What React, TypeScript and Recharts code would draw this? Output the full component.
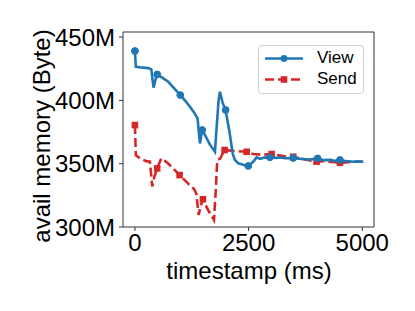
import React from 'react';
import { LineChart, Line, XAxis, YAxis, Legend, ReferenceArea } from 'recharts';

const xTicks = [0, 2500, 5000];
const yTicks = [300, 350, 400, 450];

const viewTime = [0, 20, 150, 300, 360, 410, 450, 490, 600, 733, 850, 997, 1100, 1210, 1300, 1379, 1400, 1430, 1481, 1550, 1650, 1760, 1800, 1840, 1870, 1930, 1995, 2080, 2150, 2200, 2273, 2400, 2493, 2600, 2677, 2750, 2850, 2970, 3100, 3200, 3300, 3480, 3600, 3750, 3850, 4018, 4150, 4300, 4400, 4509, 4650, 4800, 4900, 5020];
const viewMem = [439, 426.5, 426, 425.5, 424.5, 410, 416, 420.5, 418, 414.7, 410, 404.2, 400, 395, 390.5, 385.8, 377, 366, 376.6, 372, 365, 359.4, 380, 400, 406.8, 398, 392.4, 375, 358, 352.9, 350.3, 349, 348.2, 351.5, 355, 353.8, 354.8, 355, 354.6, 355, 354.3, 354.5, 354, 353.5, 353.2, 354.2, 352.8, 353, 352.2, 352.9, 352, 351.5, 351.8, 351.5];
const viewMarkers = [0, 490, 997, 1481, 1995, 2493, 2970, 3480, 4018, 4509];

const sendTime = [0, 20, 110, 250, 330, 381, 430, 490, 580, 650, 726, 850, 983, 1150, 1300, 1349, 1375, 1400, 1450, 1496, 1600, 1700, 1738, 1780, 1810, 1880, 1930, 1973, 2200, 2457, 2603, 2800, 3007, 3200, 3350, 3482, 3650, 3850, 3996, 4150, 4350, 4509, 4700, 4850, 5020];
const sendMem = [380.5, 356.8, 354.2, 352, 351.6, 332, 340, 346.3, 354.2, 352.5, 350.3, 346, 341, 335, 330, 326.6, 318, 309.5, 317, 321.9, 314, 308, 305.5, 330, 352.9, 354.2, 358, 360.8, 360, 359.4, 357.6, 357, 357.6, 356.5, 355.5, 355.5, 354, 352.5, 351.6, 352, 351.3, 350.8, 351.2, 351.5, 351.5];
const sendMarkers = [0, 490, 983, 1496, 1973, 2457, 3007, 3482, 3996, 4509];

const BLUE = '#1f77b4';
const RED = '#d62728';
const FONT = '"Liberation Sans", Arial, sans-serif';

const viewData = viewTime.map((t, i) => ({ t, v: viewMem[i], m: viewMarkers.includes(t) }));
const sendData = sendTime.map((t, i) => ({ t, v: sendMem[i], m: sendMarkers.includes(t) }));

const CircleDot = (props: any) => {
  const { cx, cy, payload, index } = props;
  if (!payload || !payload.m) return <g key={'c' + index} />;
  return <circle key={'c' + index} cx={cx} cy={cy} r={3.4} fill={BLUE} stroke={BLUE} />;
};

const SquareDot = (props: any) => {
  const { cx, cy, payload, index } = props;
  if (!payload || !payload.m) return <g key={'s' + index} />;
  return <rect key={'s' + index} x={cx - 3.3} y={cy - 3.3} width={6.6} height={6.6} fill={RED} />;
};

const LegendBox = () => (
  <div
    style={{
      position: 'relative',
      width: 106,
      height: 49,
      border: '1px solid #d0d0d0',
      borderRadius: 4,
      background: 'rgba(255,255,255,0.8)',
      boxSizing: 'border-box',
      fontFamily: FONT,
      fontSize: 17,
      color: '#000',
    }}
  >
    <svg width={50} height={49} style={{ position: 'absolute', left: 0, top: 0 }}>
      <line x1={6} x2={44} y1={12.5} y2={12.5} stroke={BLUE} strokeWidth={2.6} />
      <circle cx={25} cy={12.5} r={3.4} fill={BLUE} />
      <line x1={6} x2={44} y1={33.5} y2={33.5} stroke={RED} strokeWidth={2.6} strokeDasharray="9 4" />
      <rect x={21.7} y={30.2} width={6.6} height={6.6} fill={RED} />
    </svg>
    <span style={{ position: 'absolute', left: 58, top: 2, lineHeight: '20px' }}>View</span>
    <span style={{ position: 'absolute', left: 58, top: 23, lineHeight: '20px' }}>Send</span>
  </div>
);

const YLabel = () => (
  <text
    x={50}
    y={136}
    transform="rotate(-90 50 136)"
    textAnchor="middle"
    fontFamily={FONT}
    fontSize={24}
    fill="#000"
  >
    avail memory (Byte)
  </text>
);

const XLabel = () => (
  <text x={249} y={279} textAnchor="middle" fontFamily={FONT} fontSize={24} fill="#000">
    timestamp (ms)
  </text>
);

export default function App() {
  return (
    <div style={{ position: 'absolute', left: 0, top: 0, width: 415, height: 311, background: '#fff' }}>
      <LineChart width={415} height={311} margin={{ top: 32, right: 41, bottom: 24, left: 0 }}>
        <XAxis
          type="number"
          dataKey="t"
          domain={[-262, 5258]}
          ticks={xTicks}
          allowDataOverflow
          height={60}
          axisLine={false}
          tickSize={4}
          tickMargin={3}
          tickLine={{ stroke: '#333' }}
          tick={{ fontSize: 24, fontFamily: FONT, fill: '#000' }}
          label={<XLabel />}
        />
        <YAxis
          type="number"
          domain={[300, 454]}
          ticks={yTicks}
          allowDataOverflow
          width={123}
          axisLine={false}
          tickSize={4}
          tickMargin={4}
          tickLine={{ stroke: '#333' }}
          tickFormatter={(v: number) => `${v}M`}
          tick={{ fontSize: 24, fontFamily: FONT, fill: '#000' }}
          label={<YLabel />}
        />
        <ReferenceArea x1={-262} x2={5258} y1={300} y2={454} fill="none" stroke="#333" strokeWidth={1} />
        <Line
          data={sendData}
          dataKey="v"
          name="Send"
          type="linear"
          stroke={RED}
          strokeWidth={2.6}
          strokeDasharray="9 4"
          dot={SquareDot}
          activeDot={false}
          isAnimationActive={false}
        />
        <Line
          data={viewData}
          dataKey="v"
          name="View"
          type="linear"
          stroke={BLUE}
          strokeWidth={2.6}
          dot={CircleDot}
          activeDot={false}
          isAnimationActive={false}
        />
        <Legend
          layout="horizontal"
          verticalAlign="middle"
          align="center"
          content={<LegendBox />}
          wrapperStyle={{ position: 'absolute', left: 258, top: 45, width: 106, height: 49 }}
        />
      </LineChart>
    </div>
  );
}
